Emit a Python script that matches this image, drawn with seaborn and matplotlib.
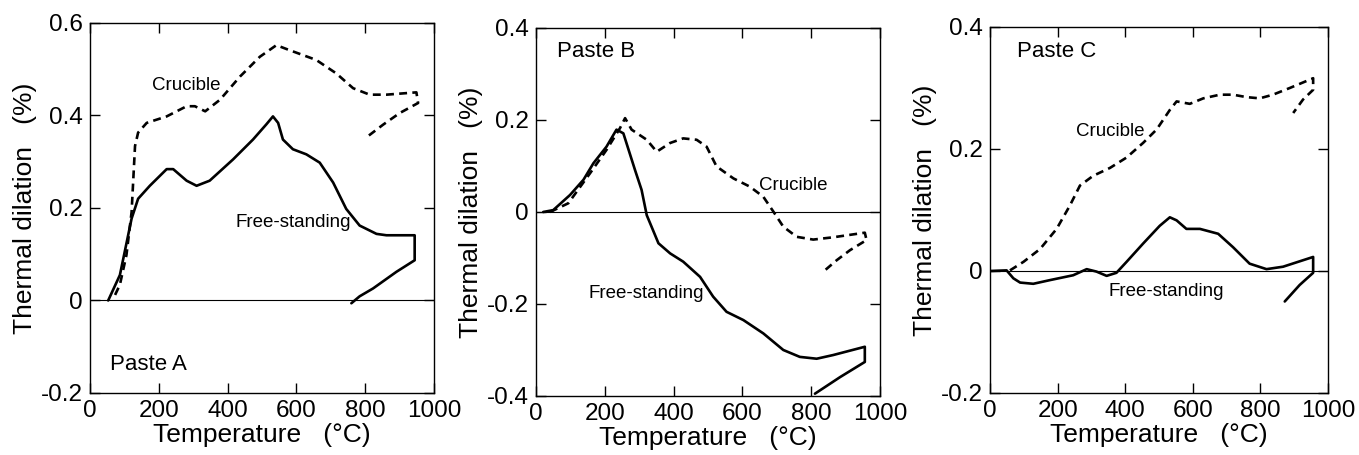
import numpy as np
import pandas as pd
import matplotlib
matplotlib.use('Agg')
import matplotlib.pyplot as plt
import matplotlib.ticker as mticker
import seaborn as sns

# =====================================================
# DATA
# =====================================================

# Paste A
a_free_x = [53, 87, 121, 140, 174, 223, 242, 281, 310, 348, 416, 474, 513, 532, 547, 561,
            590, 629, 668, 707, 745, 784, 833, 862, 944, 944, 891, 823, 784, 760]
a_free_y = [0.0, 0.055, 0.177, 0.22, 0.248, 0.284, 0.284, 0.259, 0.248, 0.259, 0.305, 0.348,
            0.381, 0.398, 0.384, 0.348, 0.327, 0.316, 0.298, 0.255, 0.198, 0.162, 0.144,
            0.141, 0.141, 0.087, 0.062, 0.026, 0.009, -0.006]
a_cruc_x = [73, 87, 106, 121, 131, 140, 165, 223, 281, 305, 335, 378, 436, 494, 542, 581,
            658, 716, 765, 813, 862, 949, 954, 900, 852, 799]
a_cruc_y = [0.012, 0.034, 0.098, 0.191, 0.334, 0.363, 0.384, 0.398, 0.42, 0.42, 0.409,
            0.434, 0.484, 0.527, 0.552, 0.541, 0.52, 0.491, 0.459, 0.445, 0.445, 0.45,
            0.427, 0.405, 0.38, 0.35]

# Paste B
b_free_x = [21, 50, 99, 138, 167, 205, 234, 254, 288, 307, 322, 336, 356, 390, 428, 477,
            515, 554, 603, 661, 719, 767, 816, 864, 956, 956, 884, 811]
b_free_y = [0.0, 0.004, 0.037, 0.07, 0.106, 0.142, 0.179, 0.171, 0.091, 0.048, -0.007,
            -0.032, -0.068, -0.09, -0.108, -0.141, -0.184, -0.217, -0.235, -0.264, -0.3,
            -0.315, -0.319, -0.311, -0.293, -0.326, -0.359, -0.395]
b_cruc_x = [41, 94, 157, 205, 244, 259, 278, 322, 351, 390, 428, 467, 496, 525, 574, 622,
            661, 690, 719, 758, 806, 864, 956, 961, 913, 874, 835]
b_cruc_y = [0.0, 0.019, 0.084, 0.135, 0.182, 0.204, 0.179, 0.157, 0.131, 0.15, 0.16,
            0.157, 0.142, 0.099, 0.073, 0.055, 0.033, 0.001, -0.032, -0.054, -0.06,
            -0.055, -0.045, -0.061, -0.083, -0.105, -0.13]

# Paste C
c_free_x = [0, 49, 69, 89, 128, 177, 246, 286, 315, 345, 374, 404, 453, 502, 532, 552,
            581, 621, 675, 719, 768, 818, 867, 956, 956, 916, 872]
c_free_y = [0.0, 0.001, -0.012, -0.019, -0.021, -0.015, -0.007, 0.003, -0.001, -0.008,
            -0.003, 0.015, 0.045, 0.074, 0.088, 0.083, 0.069, 0.069, 0.061, 0.039, 0.012,
            0.003, 0.007, 0.023, -0.003, -0.023, -0.05]
c_cruc_x = [59, 99, 148, 197, 236, 266, 305, 355, 404, 453, 493, 532, 552, 591, 631, 680,
            719, 759, 798, 837, 887, 956, 956, 926, 897]
c_cruc_y = [0.001, 0.015, 0.036, 0.069, 0.107, 0.14, 0.156, 0.169, 0.186, 0.21, 0.232,
            0.264, 0.278, 0.274, 0.283, 0.289, 0.289, 0.285, 0.283, 0.289, 0.3, 0.316,
            0.297, 0.281, 0.259]

x_ticks = [0, 200, 400, 600, 800, 1000]
panel_names = ['Paste A', 'Paste B', 'Paste C']
y_limits = [(-0.2, 0.6), (-0.4, 0.4), (-0.2, 0.4)]
y_ticks = [[-0.2, 0, 0.2, 0.4, 0.6], [-0.4, -0.2, 0, 0.2, 0.4], [-0.2, 0, 0.2, 0.4]]

# =====================================================
# STYLE
# =====================================================

sns.set_theme(style='ticks')
plt.rcParams['font.family'] = ['Liberation Sans', 'DejaVu Sans']
plt.rcParams.update({
    'axes.unicode_minus': False,
    'axes.linewidth': 1.0,
    'axes.edgecolor': 'black',
    'axes.labelcolor': 'black',
    'text.color': 'black',
    'xtick.direction': 'in', 'ytick.direction': 'in',
    'xtick.top': True, 'ytick.right': True,
    'xtick.major.size': 7, 'ytick.major.size': 7,
    'xtick.major.width': 1.0, 'ytick.major.width': 1.0,
    'xtick.labelsize': 17.5, 'ytick.labelsize': 17.5,
    'xtick.color': 'black', 'ytick.color': 'black',
})

fig = plt.figure(figsize=(13.59, 4.55), dpi=100)
positions = [
    [0.0662, 0.1363, 0.2531, 0.8132],
    [0.3944, 0.1297, 0.2531, 0.8088],
    [0.7285, 0.1363, 0.2487, 0.8044],
]

curves = [
    (a_free_x, a_free_y, a_cruc_x, a_cruc_y),
    (b_free_x, b_free_y, b_cruc_x, b_cruc_y),
    (c_free_x, c_free_y, c_cruc_x, c_cruc_y),
]

# label placements: (Crucible x, y), (Free-standing x, y), (Paste x, y)
label_pos = [
    ((281, 0.465), (590, 0.168), (58, -0.138)),
    ((748, 0.057), (322, -0.177), (60, 0.349)),
    ((355, 0.229), (522, -0.034), (79, 0.359)),
]


def fmt_y(v, _):
    if abs(v) < 1e-9:
        return '0'
    return f'{v:.1f}'


for i, pos in enumerate(positions):
    ax = fig.add_axes(pos)
    fx, fy, cx, cy = curves[i]
    free = pd.DataFrame({'T': fx, 'd': fy})
    cruc = pd.DataFrame({'T': cx, 'd': cy})

    ax.axhline(0, color='black', lw=0.8, zorder=1)
    sns.lineplot(data=free, x='T', y='d', sort=False, estimator=None,
                 color='black', lw=1.9, ax=ax)
    sns.lineplot(data=cruc, x='T', y='d', sort=False, estimator=None,
                 color='black', lw=1.9, linestyle=(0, (3, 2)), ax=ax)

    ax.set_xlim(0, 1000)
    ax.set_ylim(*y_limits[i])
    ax.set_xticks(x_ticks)
    ax.set_yticks(y_ticks[i])
    ax.yaxis.set_major_formatter(mticker.FuncFormatter(fmt_y))
    ax.tick_params(axis='x', pad=5)
    ax.tick_params(axis='y', pad=5)

    ax.set_xlabel('Temperature   (°C)', fontsize=19, labelpad=1)
    ax.set_ylabel('Thermal dilation   (%)', fontsize=19, labelpad=3)

    (crx, cry), (frx, fry), (px, py) = label_pos[i]
    ax.text(crx, cry, 'Crucible', fontsize=13.5, ha='center', va='center')
    ax.text(frx, fry, 'Free-standing', fontsize=13.5, ha='center', va='center')
    ax.text(px, py, panel_names[i], fontsize=16, ha='left', va='center')

fig.savefig('out.png', dpi=100)
